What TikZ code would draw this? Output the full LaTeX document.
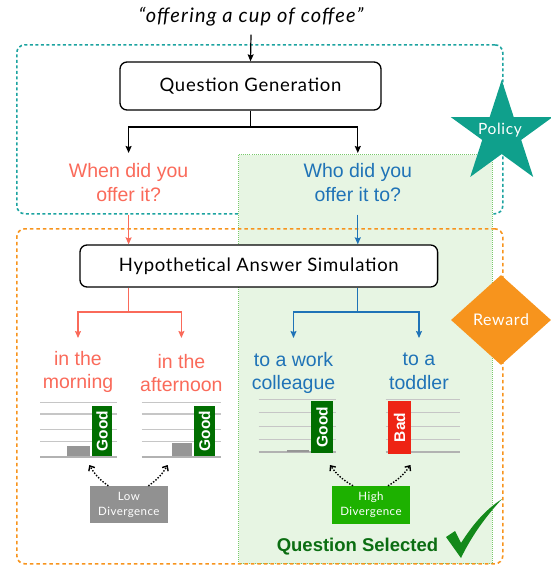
\documentclass[tikz,border=0pt]{standalone}
\usepackage{fontspec}
\setmainfont{Lato}
\newfontfamily\avfont[LetterSpace=4]{Lato}
\newfontfamily\avitfont[LetterSpace=6]{Lato Italic}
\newfontfamily\arialf{Liberation Sans}
\usetikzlibrary{arrows.meta,shapes.geometric}
\definecolor{salmonc}{HTML}{FA6A5A}
\definecolor{bluec}{HTML}{1F73B7}
\definecolor{tealc}{HTML}{1CA3A0}
\definecolor{policyc}{HTML}{0FA08C}
\definecolor{orangec}{HTML}{F7941D}
\definecolor{selfill}{HTML}{E7F5E3}
\definecolor{selline}{HTML}{77C96A}
\definecolor{goodc}{HTML}{006E00}
\definecolor{badc}{HTML}{EE2414}
\definecolor{lowc}{HTML}{919191}
\definecolor{highc}{HTML}{1DB100}
\definecolor{qselc}{HTML}{0B6E12}
\definecolor{checkc}{HTML}{13891A}
\definecolor{gridc}{HTML}{C6C6C6}
\definecolor{barg}{HTML}{969696}
\tikzset{
  arr/.style={-{Stealth[length=7pt,width=6pt,inset=1pt]}, line width=1.2pt},
  procbox/.style={draw, rounded corners=7pt, line width=1.3pt, fill=white, inner sep=0pt, font=\avfont\fontsize{18.5}{20}\selectfont},
  qtext/.style={font=\arialf\fontsize{19.5}{24}\selectfont, align=center, inner sep=0pt, anchor=north},
  atext/.style={font=\arialf\fontsize{19.5}{23.5}\selectfont, align=center, inner sep=0pt, anchor=north},
  barnode/.style={rotate=90, inner sep=0pt, text=white, font=\arialf\bfseries\fontsize{15.5}{15}\selectfont},
  divbox/.style={inner sep=0pt, text=white, align=center, font=\avfont\fontsize{11.5}{15}\selectfont},
  dotarr/.style={line width=1.4pt, dash pattern=on 1.4pt off 1.6pt, -{Straight Barb[length=4pt,width=7pt]}},
  gridln/.style={gridc, line width=1.2pt},
  baseln/.style={gridc!90!black, line width=1.8pt},
  regionbox/.style={rounded corners=8pt, line width=1.6pt, inner sep=0pt, anchor=north west},
}
\begin{document}
\begin{tikzpicture}[x=1pt,y=-1pt]
\useasboundingbox (0,0) rectangle (551,565);
% region boxes
\node[regionbox, draw=tealc, dash pattern=on 3pt off 2.5pt, minimum width=486, minimum height=169] (teal) at (16,44) {};
\node[draw=selline, fill=selfill, line width=1pt, dash pattern=on 1pt off 1pt, inner sep=0pt, anchor=north west, minimum width=253.5, minimum height=409] (sel) at (238,154) {};
\node[regionbox, draw=orangec, dash pattern=on 3.5pt off 3pt, minimum width=486, minimum height=335] (orange) at (16,228) {};
% title
\node[font=\avitfont\fontsize{20}{22}\selectfont, inner sep=0pt] (title) at (251,17) {“offering a cup of coffee”};
% question generation
\node[procbox, minimum width=261, minimum height=48] (qg) at (250.5,86) {Question Generation};
\draw[arr] ([yshift=-8pt]title.south) -- (qg.north);
\node[qtext, text=salmonc] (q1) at (128.6,163) {When did you\\offer it?};
\node[qtext, text=bluec] (q2) at (357.8,163) {Who did you\\offer it to?};
\draw[line width=1.2pt] (qg.south) -- (qg.south |- 0,127) coordinate (qgb);
\draw[arr] (qgb) -| ([yshift=10pt]q1.north);
\draw[arr] (qgb) -| ([yshift=10pt]q2.north);
% answer simulation
\node[procbox, minimum width=357.6, minimum height=42] (has) at (258.8,266) {Hypothetical Answer Simulation};
\draw[arr, salmonc] (q1.south |- teal.south) -- (q1.south |- has.north);
\draw[arr, bluec] (q2.south |- teal.south) -- (q2.south |- has.north);
\node[atext, text=salmonc] (a1) at (78,351) {in the\\morning};
\node[atext, text=salmonc] (a2) at (181.4,354) {in the\\afternoon};
\node[atext, text=bluec] (a3) at (293.5,352) {to a work\\colleague};
\node[atext, text=bluec] (a4) at (419,353) {to a\\toddler};
\draw[line width=1.2pt, salmonc] (q1.south |- has.south) -- (q1.south |- 0,312) coordinate (hb1);
\draw[arr, salmonc] (hb1) -| ([yshift=13pt]a1.north);
\draw[arr, salmonc] (hb1) -| ([yshift=16pt]a2.north);
\draw[line width=1.2pt, bluec] (q2.south |- has.south) -- (q2.south |- 0,312) coordinate (hb2);
\draw[arr, bluec] (hb2) -| ([yshift=14pt]a3.north);
\draw[arr, bluec] (hb2) -| ([yshift=15pt]a4.north);
% charts
\foreach \y in {402.3,414,429.3,441.7} {
  \draw[gridln] (40,\y) -- (117,\y);
  \draw[gridln] (141.7,\y) -- (221,\y);
}
\draw[baseln] (40,456.7) -- (117,456.7);
\draw[baseln] (141.7,456.7) -- (221,456.7);
\foreach \y in {399.3,412.3,426.7,439.3} {
  \draw[gridln] (258.7,\y) -- (335.7,\y);
  \draw[gridln] (385.6,\y) -- (459.8,\y);
}
\draw[baseln] (258.7,452.2) -- (335.7,452.2);
\draw[baseln] (385.6,452.2) -- (459.8,452.2);
\fill[barg] (66.7,446) rectangle (90,456);
\fill[barg] (171.7,442.7) rectangle (192.3,456);
\fill[barg] (286.5,450) rectangle (309,452);
\node[barnode, fill=goodc, minimum width=50, minimum height=20] (g1) at (102,431) {Good};
\node[barnode, fill=goodc, minimum width=50, minimum height=21] (g2) at (204.5,431) {Good};
\node[barnode, fill=goodc, minimum width=51.7, minimum height=22] (g3) at (322,426.85) {Good};
\node[barnode, fill=badc, minimum width=53, minimum height=23] (b4) at (399.5,427.5) {Bad};
% divergence boxes
\node[divbox, fill=lowc, minimum width=77.7, minimum height=37.3] (low) at (128.85,504.7) {Low\\Divergence};
\node[divbox, fill=highc, minimum width=78, minimum height=38] (high) at (371,505) {High\\Divergence};
\coordinate (t1) at (89.3,465);
\coordinate (t2) at (167.7,465);
\coordinate (t3) at (330,465);
\coordinate (t4) at (410.5,465);
\draw[dotarr] ([xshift=-20.5pt]low.north) to[bend left=12] (t1);
\draw[dotarr] ([xshift=19.5pt]low.north) to[bend right=12] (t2);
\draw[dotarr] ([xshift=-18pt]high.north) to[bend left=12] (t3);
\draw[dotarr] ([xshift=17pt]high.north) to[bend right=12] (t4);
% selected
\node[font=\arialf\bfseries\fontsize{18.5}{20}\selectfont, text=qselc, inner sep=0pt] (qs) at (357.5,546.7) {Question Selected};
\fill[checkc] (446,537) -- (455,531) -- (461,543) .. controls (475,521) and (488,508) .. (502,499) .. controls (487,515) and (472,535) .. (461,558) -- cycle;
% policy star and reward diamond
\node[star, star points=5, star point ratio=2.618, minimum size=107.2, inner sep=0pt, fill=policyc] (policy) at (501.7,133.6) {};
\node[text=white, inner sep=0pt, font=\avfont\fontsize{15.5}{16}\selectfont] (policylbl) at (500,130) {Policy};
\node[diamond, aspect=1.11, minimum width=100, minimum height=90, inner sep=0pt, fill=orangec] (reward) at (501,320) {};
\node[text=white, inner sep=0pt, font=\avfont\fontsize{16}{16}\selectfont] (rewardlbl) at (reward.center) {Reward};
\end{tikzpicture}
\end{document}
